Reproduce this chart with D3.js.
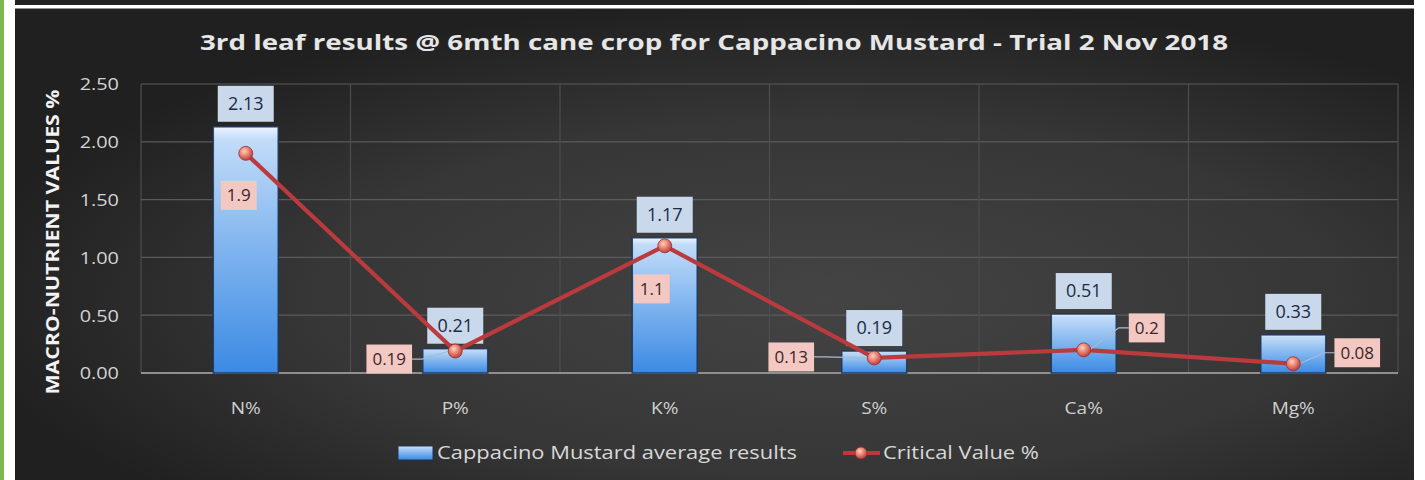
<!DOCTYPE html>
<html>
<head>
<meta charset="utf-8">
<script src="https://cdn.jsdelivr.net/npm/d3@7"></script>
<style>
  html, body { margin: 0; padding: 0; background: #ffffff; }
  svg { display: block; }
  text { font-family: "Open Sans", "Noto Sans", sans-serif; }
</style>
</head>
<body>
<svg id="chart" width="1425" height="480"></svg>
<script>
// ---- data ----
const categories = ["N%", "P%", "K%", "S%", "Ca%", "Mg%"];
const averageResults = [2.13, 0.21, 1.17, 0.19, 0.51, 0.33];
const criticalValues = [1.9, 0.19, 1.1, 0.13, 0.2, 0.08];
const yTicks = [0, 0.5, 1.0, 1.5, 2.0, 2.5];
const seriesNames = ["Cappacino Mustard average results", "Critical Value %"];
const chartTitle = "3rd leaf results @ 6mth cane crop for Cappacino Mustard - Trial 2 Nov 2018";
const yTitle = "MACRO-NUTRIENT VALUES %";

// ---- layout ----
const W = 1425, H = 480;
const plot = { left: 141, right: 1398, top: 84, bottom: 373 };
const barWidth = 65;
// critical-value label offsets from their markers
const critLabelOffset = [[-7, 42], [-66, 8], [-13, 43], [-83, -1], [63, -22], [64, -11]];

const svg = d3.select("#chart");
const defs = svg.append("defs");

// background gradient
const bg = defs.append("radialGradient").attr("id", "bgGrad")
  .attr("cx", "58%").attr("cy", "62%").attr("r", "62%");
bg.append("stop").attr("offset", "0%").attr("stop-color", "#444444");
bg.append("stop").attr("offset", "60%").attr("stop-color", "#363636");
bg.append("stop").attr("offset", "100%").attr("stop-color", "#202020");

// bar gradient
const bg2 = defs.append("linearGradient").attr("id", "barGrad")
  .attr("x1", 0).attr("y1", 0).attr("x2", 0).attr("y2", 1);
bg2.append("stop").attr("offset", "0%").attr("stop-color", "#eef6fe");
bg2.append("stop").attr("offset", "5%").attr("stop-color", "#c2dcf8");
bg2.append("stop").attr("offset", "45%").attr("stop-color", "#86b8f0");
bg2.append("stop").attr("offset", "100%").attr("stop-color", "#3b8ae4");

// marker gradient
const mg = defs.append("radialGradient").attr("id", "markGrad")
  .attr("cx", "40%").attr("cy", "35%").attr("r", "65%");
mg.append("stop").attr("offset", "0%").attr("stop-color", "#fbd2c0");
mg.append("stop").attr("offset", "45%").attr("stop-color", "#ee8a78");
mg.append("stop").attr("offset", "100%").attr("stop-color", "#b8403f");

// frame: white page, green strip, dark panel, white rule at top
svg.append("rect").attr("width", W).attr("height", H).attr("fill", "#ffffff");
svg.append("rect").attr("x", 0).attr("y", 0).attr("width", 4).attr("height", H).attr("fill", "#7fb94c");
svg.append("rect").attr("x", 15).attr("y", 0).attr("width", 1399).attr("height", H).attr("fill", "url(#bgGrad)");
svg.append("rect").attr("x", 15).attr("y", 5).attr("width", 1399).attr("height", 3.5).attr("fill", "#ffffff");

// stretch a text node horizontally to a target width
function fitWidth(sel, width) {
  sel.attr("textLength", width).attr("lengthAdjust", "spacingAndGlyphs");
}
function stretch(sel, k) {
  sel.each(function () {
    const w = this.getComputedTextLength();
    d3.select(this).attr("textLength", w * k).attr("lengthAdjust", "spacingAndGlyphs");
  });
}

// ---- scales ----
const x = d3.scaleBand().domain(categories).range([plot.left, plot.right]).padding(0);
const y = d3.scaleLinear().domain([0, 2.5]).range([plot.bottom, plot.top]);
const cx = c => x(c) + x.bandwidth() / 2;

// ---- grid ----
const grid = svg.append("g");
grid.selectAll("line.h").data(yTicks.filter(t => t > 0)).join("line")
  .attr("x1", plot.left).attr("x2", plot.right)
  .attr("y1", d => y(d)).attr("y2", d => y(d))
  .attr("stroke", "#5b5b5b").attr("stroke-width", 1.2);
const bounds = categories.map(c => x(c)).concat([plot.right]);
grid.selectAll("line.v").data(bounds).join("line")
  .attr("x1", d => d).attr("x2", d => d)
  .attr("y1", plot.top).attr("y2", plot.bottom)
  .attr("stroke", "#4d4d4d").attr("stroke-width", 1.2);

// ---- axes ----
const yAxis = svg.append("g").attr("transform", `translate(${plot.left - 22},0)`)
  .call(d3.axisLeft(y).tickValues(yTicks).tickFormat(d3.format(".2f")).tickSize(0).tickPadding(0));
yAxis.select(".domain").remove();
yAxis.selectAll("text").attr("fill", "#d4d4d4").attr("font-size", 17).attr("dy", "0.35em")
  .attr("font-family", "Open Sans");
stretch(yAxis.selectAll("text"), 1.17);

const xAxis = svg.append("g").attr("transform", `translate(0,${plot.bottom})`)
  .call(d3.axisBottom(x).tickSize(0).tickPadding(0));
xAxis.select(".domain").remove();
xAxis.selectAll("text").attr("fill", "#d0d0d0").attr("font-size", 17).attr("y", 41).attr("dy", 0)
  .attr("font-family", "Open Sans");
stretch(xAxis.selectAll("text"), 1.12);

// zero line
svg.append("line").attr("x1", plot.left).attr("x2", plot.right)
  .attr("y1", y(0)).attr("y2", y(0)).attr("stroke", "#8f8f8f").attr("stroke-width", 2.2);

// ---- bars ----
const bars = svg.append("g");
bars.selectAll("rect").data(categories).join("rect")
  .attr("x", (c) => cx(c) - barWidth / 2)
  .attr("y", (c, i) => y(averageResults[i]))
  .attr("width", barWidth)
  .attr("height", (c, i) => y(0) - y(averageResults[i]))
  .attr("fill", "url(#barGrad)")
  .attr("stroke", "#1c3558").attr("stroke-width", 1.6).attr("stroke-opacity", 0.85);

// bar value labels
const barLabels = svg.append("g");
categories.forEach((c, i) => {
  const top = y(averageResults[i]);
  const g = barLabels.append("g");
  g.append("rect").attr("x", cx(c) - 28).attr("y", top - 41).attr("width", 56).attr("height", 36)
    .attr("fill", "#c9d8eb");
  g.append("text").attr("x", cx(c)).attr("y", top - 23).attr("dy", "0.35em")
    .attr("text-anchor", "middle").attr("font-size", 18).attr("fill", "#1b2b45")
    .text(d3.format(".2f")(averageResults[i]));
});

// ---- critical value line ----
const line = d3.line().x((d, i) => cx(categories[i])).y(d => y(d));
svg.append("path").datum(criticalValues).attr("d", line)
  .attr("fill", "none").attr("stroke", "#bb3a3e").attr("stroke-width", 4.2)
  .attr("stroke-linejoin", "round");

// leader lines + labels
const critLabels = svg.append("g");
criticalValues.forEach((v, i) => {
  const px = cx(categories[i]), py = y(v);
  const [ox, oy] = critLabelOffset[i];
  const lx = px + ox, ly = py + oy;
  const label = String(v);
  const t = critLabels.append("text").attr("x", lx).attr("y", ly).attr("dy", "0.35em")
    .attr("text-anchor", "middle").attr("font-size", 17).attr("fill", "#3a2626").text(label);
  const tw = t.node().getComputedTextLength();
  const bw = tw + 12, bh = 29;
  if (Math.abs(ox) > 40) {
    const edge = ox < 0 ? lx + bw / 2 : lx - bw / 2;
    const stub = ox < 0 ? edge + 10 : edge - 10;
    critLabels.insert("path", "text")
      .attr("d", `M${edge},${ly}L${stub},${ly}L${px + (ox < 0 ? -6 : 6)},${py}`)
      .attr("fill", "none").attr("stroke", "#a9bccf").attr("stroke-width", 1.2);
  }
  critLabels.insert("rect", "text").attr("x", lx - bw / 2).attr("y", ly - bh / 2)
    .attr("width", bw).attr("height", bh).attr("fill", "#f3c8c3");
  t.raise();
});

// markers
svg.append("g").selectAll("circle").data(criticalValues).join("circle")
  .attr("cx", (d, i) => cx(categories[i])).attr("cy", d => y(d)).attr("r", 7)
  .attr("fill", "url(#markGrad)").attr("stroke", "#9a2f30").attr("stroke-width", 0.8);

// ---- titles ----
const title = svg.append("text").attr("x", 714).attr("y", 50).attr("text-anchor", "middle")
  .attr("font-size", 21).attr("font-weight", "bold").attr("fill", "#e6e6e6").text(chartTitle);
fitWidth(title, 1028);

const yt = svg.append("text").attr("transform", "translate(59,242) rotate(-90)")
  .attr("text-anchor", "middle").attr("font-size", 17).attr("font-weight", "bold")
  .attr("fill", "#f2f2f2").text(yTitle);
fitWidth(yt, 305);

// ---- legend ----
const legend = svg.append("g");
legend.append("rect").attr("x", 398).attr("y", 446).attr("width", 35).attr("height", 14)
  .attr("fill", "url(#barGrad)").attr("stroke", "#1c3558").attr("stroke-width", 1);
const l1 = legend.append("text").attr("x", 437).attr("y", 453).attr("dy", "0.35em")
  .attr("font-size", 18).attr("fill", "#d8d8d8").text(seriesNames[0]);
fitWidth(l1, 360);
legend.append("line").attr("x1", 843).attr("x2", 880).attr("y1", 453).attr("y2", 453)
  .attr("stroke", "#bb3a3e").attr("stroke-width", 4);
legend.append("circle").attr("cx", 861).attr("cy", 453).attr("r", 6)
  .attr("fill", "url(#markGrad)").attr("stroke", "#9a2f30").attr("stroke-width", 0.8);
const l2 = legend.append("text").attr("x", 883).attr("y", 453).attr("dy", "0.35em")
  .attr("font-size", 18).attr("fill", "#d8d8d8").text(seriesNames[1]);
fitWidth(l2, 156);
</script>
</body>
</html>
